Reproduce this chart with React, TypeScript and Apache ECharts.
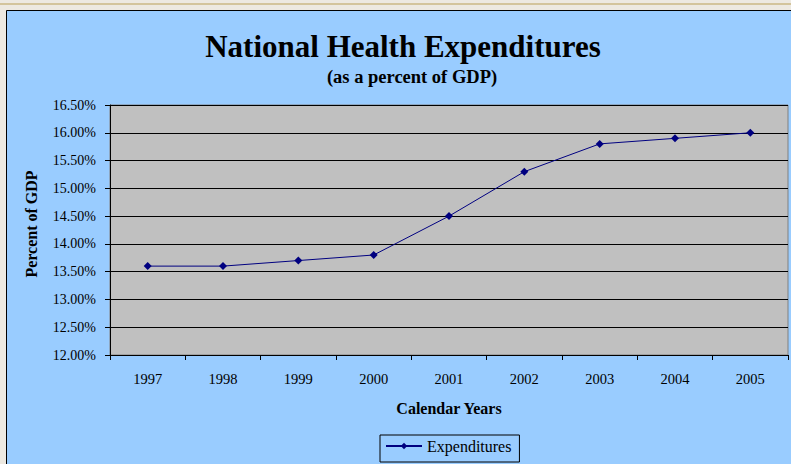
import React, { useEffect, useRef } from "react";
import * as echarts from "echarts";

const years = ["1997", "1998", "1999", "2000", "2001", "2002", "2003", "2004", "2005"];
const expenditures = [13.6, 13.6, 13.7, 13.8, 14.5, 15.3, 15.8, 15.9, 16.0];
const seriesName = "Expenditures";
const titleText = "National Health Expenditures";
const subtitleText = "(as a percent of GDP)";
const yAxisTitle = "Percent of GDP";
const xAxisTitle = "Calendar Years";

const SERIF = "'Liberation Serif', 'Times New Roman', serif";

export default function App() {
  const ref = useRef<HTMLDivElement>(null);
  useEffect(() => {
    if (!ref.current) return;
    const chart = echarts.init(ref.current, undefined, { renderer: "svg" });
    chart.setOption({
      animation: false,
      backgroundColor: "#EDE9E1",
      graphic: [
        { type: "rect", z: -10, shape: { x: 0, y: 3, width: 791, height: 2 }, style: { fill: "#D3C49C" } },
        {
          type: "rect",
          z: -10,
          shape: { x: 6.5, y: 10.5, width: 800, height: 470 },
          style: { fill: "#99CCFF", stroke: "#000", lineWidth: 1 },
        },
        {
          type: "text",
          x: 403,
          y: 46,
          style: {
            text: titleText,
            font: `bold 31px ${SERIF}`,
            fill: "#000",
            align: "center",
            verticalAlign: "middle",
          },
        },
        {
          type: "text",
          x: 412,
          y: 77,
          style: {
            text: subtitleText,
            font: `bold 18.5px ${SERIF}`,
            fill: "#000",
            align: "center",
            verticalAlign: "middle",
          },
        },
        {
          type: "text",
          x: 31,
          y: 224,
          rotation: Math.PI / 2,
          style: {
            text: yAxisTitle,
            font: `bold 16px ${SERIF}`,
            fill: "#000",
            align: "center",
            verticalAlign: "middle",
          },
        },
      ],
      grid: {
        left: 110,
        top: 105,
        width: 678,
        height: 250,
        show: true,
        backgroundColor: "#C0C0C0",
        borderColor: "#808080",
        borderWidth: 1,
      },
      legend: {
        data: [seriesName],
        left: 380,
        top: 435,
        itemWidth: 36,
        itemHeight: 8,
        itemGap: 4,
        padding: [3, 8, 8, 5],
        borderColor: "#000",
        borderWidth: 1,
        backgroundColor: "#99CCFF",
        textStyle: { fontFamily: SERIF, fontSize: 16, color: "#000" },
      },
      xAxis: {
        type: "category",
        data: years,
        boundaryGap: true,
        name: xAxisTitle,
        nameLocation: "middle",
        nameGap: 45,
        nameTextStyle: { fontFamily: SERIF, fontSize: 16, fontWeight: "bold", color: "#000" },
        axisLine: { lineStyle: { color: "#000", width: 1 } },
        axisTick: { show: true, inside: false, length: 5, lineStyle: { color: "#000" } },
        axisLabel: { fontFamily: SERIF, fontSize: 14.5, color: "#000", margin: 16 },
        splitLine: { show: false },
      },
      yAxis: {
        type: "value",
        min: 12,
        max: 16.5,
        interval: 0.5,
        axisLine: { show: true, lineStyle: { color: "#000", width: 1 } },
        axisTick: { show: true, inside: false, length: 5, lineStyle: { color: "#000" } },
        axisLabel: {
          fontFamily: SERIF,
          fontSize: 14,
          color: "#000",
          margin: 14,
          formatter: (v: number) => v.toFixed(2) + "%",
        },
        splitLine: { show: true, lineStyle: { color: "#000", width: 1 } },
      },
      series: [
        {
          name: seriesName,
          type: "line",
          data: expenditures,
          symbol: "diamond",
          symbolSize: 8,
          showSymbol: true,
          lineStyle: { color: "#000080", width: 1 },
          itemStyle: { color: "#000080" },
        },
      ],
    });
    return () => chart.dispose();
  }, []);
  return (
    <div style={{ position: "absolute", left: 0, top: 0 }}>
      <div ref={ref} style={{ width: 791, height: 464 }} />
    </div>
  );
}
